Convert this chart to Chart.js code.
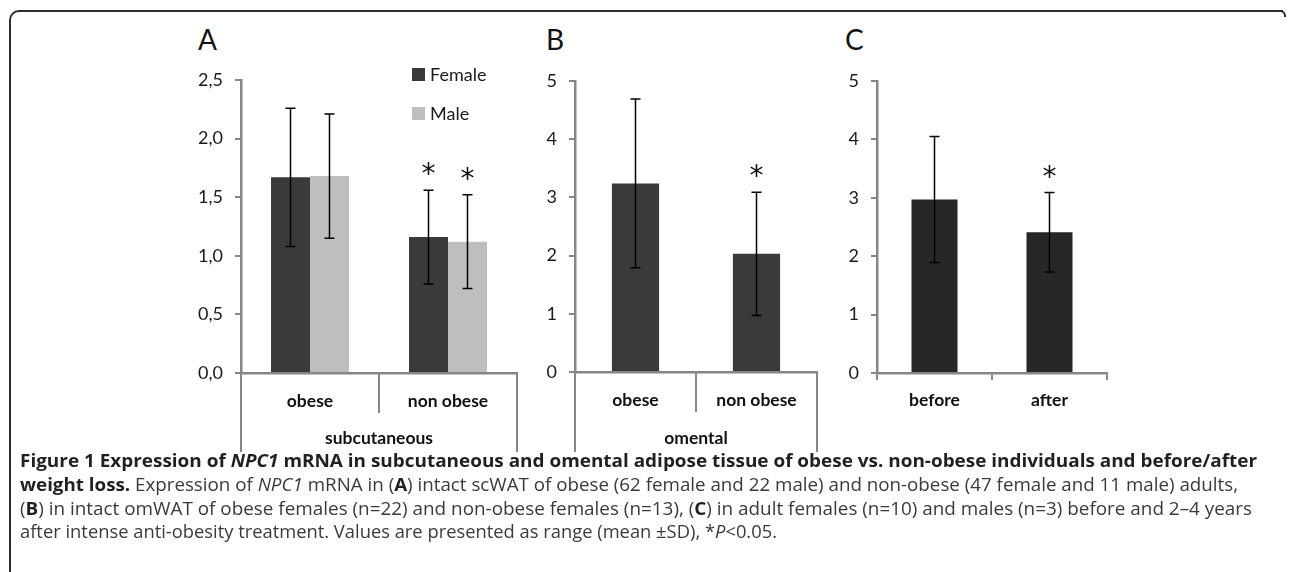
<!DOCTYPE html>
<html>
<head>
<meta charset="utf-8">
<script src="https://cdn.jsdelivr.net/npm/chart.js@4.4.1/dist/chart.umd.min.js"></script>
<style>
  html, body { margin: 0; padding: 0; background: #fff; }
  body { width: 1290px; height: 572px; position: relative; overflow: hidden; font-family: Lato, sans-serif; }
  .frame { position: absolute; left: 9px; top: 10px; width: 1272px; height: 600px;
           border-top: 2px solid #2b2b2b; border-left: 2px solid #2b2b2b; border-top-left-radius: 10px; }
  .corner { position: absolute; left: 1276px; top: 10px; width: 8px; height: 5px;
            border-top: 2px solid #2b2b2b; border-right: 2px solid #2b2b2b; border-top-right-radius: 6px; }
  canvas { position: absolute; }
  .letter { position: absolute; font-size: 28px; line-height: 1; color: #111; }
  .cap { position: absolute; left: 20px; font-family: "Open Sans", sans-serif; font-size: 17.5px;
         line-height: 24px; color: #3a3a3a; white-space: nowrap; transform-origin: 0 50%; }
  .cap b { color: #231f20; }
</style>
</head>
<body>
<div class="frame"></div>
<div class="corner"></div>
<div class="letter" style="left:198px; top:25px;">A</div>
<div class="letter" style="left:546px; top:25px;">B</div>
<div class="letter" style="left:845px; top:25px;">C</div>
<canvas id="chartA" width="380" height="400" style="left:150px; top:60px;"></canvas>
<canvas id="chartB" width="350" height="400" style="left:480px; top:60px;"></canvas>
<canvas id="chartC" width="330" height="400" style="left:790px; top:60px;"></canvas>
<div class="cap" data-right="1257" style="top:448px;"><b>Figure 1 Expression of <i>NPC1</i> mRNA in subcutaneous and omental adipose tissue of obese vs. non-obese individuals and before/after</b></div>
<div class="cap" data-right="1238" style="top:472px;"><b>weight loss.</b> Expression of <i>NPC1</i> mRNA in (<b>A</b>) intact scWAT of obese (62 female and 22 male) and non-obese (47 female and 11 male) adults,</div>
<div class="cap" data-right="1252" style="top:496px;">(<b>B</b>) in intact omWAT of obese females (n=22) and non-obese females (n=13), (<b>C</b>) in adult females (n=10) and males (n=3) before and 2–4 years</div>
<div class="cap" data-right="777" style="top:519px;">after intense anti-obesity treatment. Values are presented as range (mean ±SD), *<i>P</i>&lt;0.05.</div>
<script>
// panel A: subcutaneous, by sex
const catsA = ['obese', 'non obese'];
const femaleA = [1.67, 1.16];
const femaleSdA = [0.59, 0.40];
const femaleSigA = [false, true];
const maleA = [1.68, 1.12];
const maleSdA = [0.53, 0.40];
const maleSigA = [false, true];
const ticksA = ['0,0', '0,5', '1,0', '1,5', '2,0', '2,5'];

// panel B: omental
const catsB = ['obese', 'non obese'];
const valsB = [3.24, 2.03];
const sdB = [1.45, 1.06];
const sigB = [false, true];
const ticksB = ['0', '1', '2', '3', '4', '5'];

// panel C: weight loss
const catsC = ['before', 'after'];
const valsC = [2.97, 2.41];
const sdC = [1.08, 0.68];
const sigC = [false, true];
const ticksC = ['0', '1', '2', '3', '4', '5'];

const axisGrey = '#868686';
Chart.defaults.font.family = 'Lato, sans-serif';
Chart.defaults.color = '#1a1a1a';

// error bars + significance stars
const barExtras = {
  id: 'barExtras',
  afterDatasetsDraw(chart) {
    const ctx = chart.ctx, y = chart.scales.y;
    chart.data.datasets.forEach((ds, di) => {
      chart.getDatasetMeta(di).data.forEach((bar, i) => {
        const top = y.getPixelForValue(ds.data[i] + ds.sd[i]);
        const bot = y.getPixelForValue(ds.data[i] - ds.sd[i]);
        ctx.save();
        ctx.strokeStyle = '#000';
        ctx.lineWidth = 1.5;
        ctx.beginPath();
        ctx.moveTo(bar.x, top); ctx.lineTo(bar.x, bot);
        ctx.moveTo(bar.x - 5, top); ctx.lineTo(bar.x + 5, top);
        ctx.moveTo(bar.x - 5, bot); ctx.lineTo(bar.x + 5, bot);
        ctx.stroke();
        if (ds.sig[i]) {
          ctx.fillStyle = '#111';
          ctx.font = '28px "DejaVu Sans", sans-serif';
          ctx.textAlign = 'center';
          ctx.textBaseline = 'alphabetic';
          ctx.fillText('*', bar.x, top - 7);
        }
        ctx.restore();
      });
    });
  }
};

// excel style two-level category axis
const multiLevel = {
  id: 'multiLevel',
  afterDraw(chart, args, opts) {
    if (!opts.group) return;
    const ctx = chart.ctx, x = chart.scales.x, area = chart.chartArea;
    const n = chart.data.labels.length;
    const edges = [area.left];
    for (let i = 0; i < n - 1; i++) edges.push((x.getPixelForValue(i) + x.getPixelForValue(i + 1)) / 2);
    edges.push(area.right);
    ctx.save();
    ctx.strokeStyle = axisGrey;
    ctx.lineWidth = 2;
    edges.forEach((e, k) => {
      const len = (k === 0 || k === edges.length - 1) ? opts.outer : opts.sep;
      ctx.beginPath();
      ctx.moveTo(e, area.bottom);
      ctx.lineTo(e, area.bottom + len);
      ctx.stroke();
    });
    ctx.fillStyle = '#111';
    ctx.font = 'bold 17.5px Lato, sans-serif';
    ctx.textAlign = 'center';
    ctx.textBaseline = 'middle';
    ctx.fillText(opts.group, (area.left + area.right) / 2, area.bottom + opts.labelY);
    ctx.restore();
  }
};

// small legend inside panel A
const boxLegend = {
  id: 'boxLegend',
  afterDraw(chart, args, opts) {
    if (!opts.show) return;
    const ctx = chart.ctx, area = chart.chartArea;
    ctx.save();
    ctx.font = '18px Lato, sans-serif';
    ctx.textBaseline = 'middle';
    chart.data.datasets.forEach((ds, i) => {
      const lx = area.left + opts.x, ly = area.top + opts.y + i * opts.gap;
      ctx.fillStyle = ds.backgroundColor;
      ctx.fillRect(lx, ly, 13, 13);
      ctx.fillStyle = '#1a1a1a';
      ctx.fillText(ds.label, lx + 18, ly + 7);
    });
    ctx.restore();
  }
};

function makeChart(id, labels, datasets, cfg) {
  return new Chart(document.getElementById(id), {
    type: 'bar',
    data: { labels: labels, datasets: datasets },
    plugins: [barExtras, multiLevel, boxLegend],
    options: {
      responsive: false,
      animation: false,
      devicePixelRatio: 1,
      layout: { padding: { top: cfg.top, right: cfg.right, left: 0, bottom: 0 } },
      datasets: { bar: { categoryPercentage: cfg.catPct, barPercentage: 1.0 } },
      plugins: {
        legend: { display: false },
        tooltip: { enabled: false },
        multiLevel: cfg.multi || {},
        boxLegend: cfg.legend || {}
      },
      scales: {
        x: {
          grid: cfg.xTicks
            ? { display: true, drawOnChartArea: false, drawTicks: true, tickLength: 7, color: axisGrey, lineWidth: 2 }
            : { display: false, drawTicks: false },
          border: { color: axisGrey, width: 2.5 },
          ticks: { font: { size: 17.5, weight: 'bold' }, color: '#111', padding: cfg.xPad },
          afterFit: s => { s.height = cfg.xHeight; s.paddingLeft = 0; s.paddingRight = 0; }
        },
        y: {
          min: 0, max: cfg.max,
          ticks: { stepSize: cfg.step, padding: 12, font: { size: 18 }, color: '#1a1a1a',
                   callback: (v, i) => cfg.tickLabels[i] },
          grid: { drawOnChartArea: false, drawTicks: true, tickLength: 6, color: axisGrey, lineWidth: 2 },
          border: { color: axisGrey, width: 2.5 },
          afterFit: s => { s.width = cfg.yWidth; s.paddingTop = 0; s.paddingBottom = 0; }
        }
      }
    }
  });
}

makeChart('chartA', catsA, [
  { label: 'Female', data: femaleA, sd: femaleSdA, sig: femaleSigA, backgroundColor: '#3a3a3a' },
  { label: 'Male', data: maleA, sd: maleSdA, sig: maleSigA, backgroundColor: '#bebebe' }
], { top: 20, right: 13, yWidth: 91, xHeight: 87, catPct: 0.565, max: 2.5, step: 0.5, tickLabels: ticksA,
     xPad: 18, multi: { group: 'subcutaneous', sep: 40, outer: 79, labelY: 65 },
     legend: { show: true, x: 171, y: -12, gap: 39 } });

makeChart('chartB', catsB, [
  { label: 'omental', data: valsB, sd: sdB, sig: sigB, backgroundColor: '#3a3a3a' }
], { top: 21, right: 13, yWidth: 95, xHeight: 88, catPct: 0.39, max: 5, step: 1, tickLabels: ticksB,
     xPad: 18, multi: { group: 'omental', sep: 40, outer: 80, labelY: 66 } });

makeChart('chartC', catsC, [
  { label: 'weight loss', data: valsC, sd: sdC, sig: sigC, backgroundColor: '#272727' }
], { top: 21, right: 13, yWidth: 87, xHeight: 87, catPct: 0.40, max: 5, step: 1, tickLabels: ticksC,
     xPad: 10, xTicks: true });

// stretch caption lines to the widths of the original figure
document.querySelectorAll('.cap').forEach(el => {
  const w = el.getBoundingClientRect().width;
  const target = parseFloat(el.dataset.right) - 20;
  el.style.transform = 'scaleX(' + (target / w).toFixed(4) + ')';
});
</script>
</body>
</html>
